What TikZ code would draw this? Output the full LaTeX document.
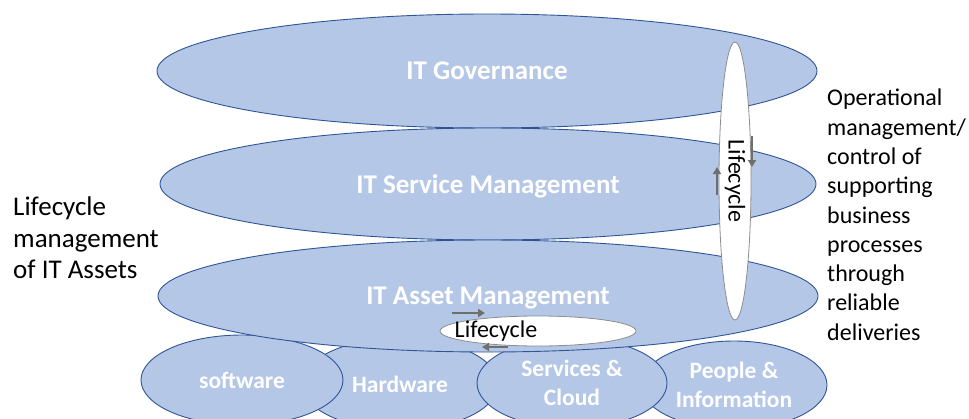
\documentclass[tikz,border=0pt]{standalone}
\usepackage{fontspec}
\setmainfont{Carlito}
\usetikzlibrary{shapes.geometric,arrows.meta}
\definecolor{ellfill}{HTML}{B4C7E7}
\definecolor{elldraw}{HTML}{2F5597}
\definecolor{arrgray}{HTML}{6E6E6E}
\definecolor{cycdraw}{HTML}{8C8C8C}
\begin{document}
\begin{tikzpicture}[x=1pt,y=-1pt,
  layer/.style={ellipse, draw=elldraw, fill=ellfill, line width=0.9pt, inner sep=0pt, text depth=0pt, text=white, font=\bfseries\fontsize{27}{30}\selectfont},
  asset/.style={ellipse, draw=elldraw, fill=ellfill, line width=0.9pt, inner sep=0pt, text=white, align=center, font=\bfseries\fontsize{23.5}{28.5}\selectfont},
  cyc/.style={ellipse, draw=cycdraw, fill=white, line width=0.8pt, inner sep=0pt, font=\fontsize{24}{28}\selectfont},
  cyctext/.style={inner sep=0pt, font=\fontsize{24}{28}\selectfont},
  flow/.style={draw=arrgray, line width=2.6pt, -{Triangle[length=7pt,width=8pt]}},
  note/.style={inner sep=0pt, align=left, anchor=north west}]
\useasboundingbox (0,0) rectangle (969,418);
\fill[white] (0,0) rectangle (969,418);
% bottom asset types
\node[asset, minimum width=196pt, minimum height=92pt] (hw) at (400,384) {Hardware};
\node[asset, minimum width=186pt, minimum height=88pt] (pi) at (734,385) {People \&\\Information};
\node[asset, minimum width=190pt, minimum height=90pt] (sc) at (572,383) {Services \&\\Cloud};
\node[asset, minimum width=202pt, minimum height=90pt] (sw) at (242,380) {software};
% layers
\node[layer, minimum width=660pt, minimum height=114pt] (gov) at (487,71) {IT Governance};
\node[layer, minimum width=656pt, minimum height=112pt] (itsm) at (488,184) {IT Service Management};
\node[layer, minimum width=660pt, minimum height=112pt] (itam) at (488,296) {IT Asset Management};
% lifecycles
\node[cyc, minimum width=196pt, minimum height=30pt] (hcyc) at (538,331) {};
\node[cyctext] (hcyctext) at (496,331) {Lifecycle};
\node[cyc, rotate=-90, minimum width=278pt, minimum height=32pt] (vcyc) at (735,181) {Lifecycle};
% lifecycle arrows
\coordinate (ha1) at (452,313);
\coordinate (ha2) at (485,313);
\coordinate (hb1) at (508,347);
\coordinate (hb2) at (482,347);
\coordinate (va1) at (752,136);
\coordinate (va2) at (752,167);
\coordinate (vb1) at (717,195);
\coordinate (vb2) at (717,167);
\draw[flow] (ha1) -- (ha2);
\draw[flow] (hb1) -- (hb2);
\draw[flow] (va1) -- (va2);
\draw[flow] (vb1) -- (vb2);
% side notes
\node[note, font=\fontsize{27}{31.5}\selectfont] (left) at (13,197) {Lifecycle\\management\\of IT Assets};
\node[note, font=\fontsize{24}{29.3}\selectfont] (right) at (827,89) {Operational\\management/\\control of\\supporting\\business\\processes\\through\\reliable\\deliveries};
\end{tikzpicture}
\end{document}
